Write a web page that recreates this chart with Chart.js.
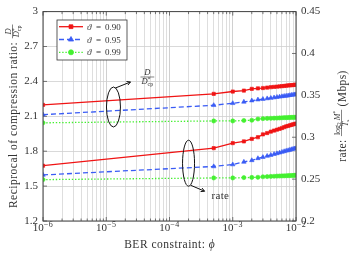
<!DOCTYPE html>
<html>
<head>
<meta charset="utf-8">
<script src="https://cdn.jsdelivr.net/npm/chart.js@4.4.0/dist/chart.umd.min.js"></script>
<style>
  html, body { margin: 0; padding: 0; background: #fff; }
  #wrap { width: 349px; height: 256px; }
</style>
</head>
<body>
<div id="wrap"><canvas id="chart" width="349" height="256"></canvas></div>
<script>
// BER constraint (x)
const berValues = [1e-6, 5e-4, 1e-3, 1.5e-3, 2e-3, 2.5e-3, 3e-3, 3.5e-3, 4e-3, 4.5e-3, 5e-3,
  5.5e-3, 6e-3, 6.5e-3, 7e-3, 7.5e-3, 8e-3, 8.5e-3, 9e-3, 9.5e-3, 1e-2];

// reciprocal of compression ratio D/D*cp (left axis)
const ratio090 = [2.198, 2.293, 2.313, 2.321, 2.336, 2.340, 2.343, 2.347, 2.350, 2.353, 2.355,
  2.357, 2.359, 2.361, 2.363, 2.365, 2.366, 2.368, 2.369, 2.371, 2.372];
const ratio095 = [2.114, 2.195, 2.212, 2.224, 2.235, 2.243, 2.248, 2.253, 2.257, 2.261, 2.265,
  2.268, 2.271, 2.274, 2.276, 2.278, 2.281, 2.283, 2.285, 2.287, 2.288];
const ratio099 = [2.044, 2.060, 2.060, 2.064, 2.066, 2.077, 2.080, 2.082, 2.083, 2.084, 2.085,
  2.086, 2.087, 2.088, 2.088, 2.089, 2.090, 2.090, 2.091, 2.091, 2.092];

// rate in Mbps (right axis)
const rate090 = [0.266, 0.287, 0.293, 0.295, 0.298, 0.300, 0.3034, 0.305, 0.3067, 0.308, 0.309,
  0.310, 0.311, 0.312, 0.313, 0.3135, 0.3142, 0.3148, 0.3154, 0.3158, 0.3163];
const rate095 = [0.255, 0.2651, 0.2674, 0.2705, 0.2724, 0.2748, 0.2762, 0.2776, 0.2787, 0.2798, 0.2807,
  0.2815, 0.2824, 0.2831, 0.2838, 0.2843, 0.2849, 0.2855, 0.2860, 0.2864, 0.2868];
const rate099 = [0.2494, 0.2514, 0.2514, 0.2518, 0.2520, 0.2522, 0.2528, 0.2530, 0.2532, 0.2534, 0.2536,
  0.2537, 0.2538, 0.2539, 0.2540, 0.2541, 0.2542, 0.2543, 0.2544, 0.2545, 0.2546];

const thetaLabels = ['0.90', '0.95', '0.99'];
const leftTicks = [1.2, 1.5, 1.8, 2.1, 2.4, 2.7, 3];
const rightTicks = [0.2, 0.25, 0.3, 0.35, 0.4, 0.45];
const xDecades = [-6, -5, -4, -3, -2];

const RED = '#f01414', BLUE = '#3a5cf5', GREEN = '#44f030';
const SERIF = '"Liberation Serif", "DejaVu Serif", serif';
const INK = '#333';

function pts(ys) {
  return berValues.map((x, i) => ({ x: x, y: ys[i] }));
}

// minor + major positions for the log axis grid
const xGridVals = [];
xDecades.forEach(e => {
  for (let k = 1; k <= 9; k++) {
    if (e === -2 && k > 1) break;
    xGridVals.push(+(k * Math.pow(10, e)).toPrecision(3));
  }
});
function isDecade(v) {
  const l = Math.log10(v);
  return Math.abs(l - Math.round(l)) < 1e-6;
}

const styles = [
  { color: RED, pointStyle: 'rect', radius: 2.3, dash: [] },
  { color: BLUE, pointStyle: 'triangle', radius: 2.6, dash: [5, 3] },
  { color: GREEN, pointStyle: 'circle', radius: 2.1, dash: [1.4, 1.8] }
];

function ds(ys, s, axis) {
  return {
    data: pts(ys),
    yAxisID: axis,
    borderColor: s.color,
    backgroundColor: s.color,
    borderWidth: 1.3,
    borderDash: s.dash,
    pointStyle: s.pointStyle,
    pointRadius: s.radius,
    pointBorderWidth: 0.6,
    tension: 0
  };
}

// text runs: {t, size, it, dy, stack, ls}
function setFont(ctx, s) {
  ctx.font = (s.it ? 'italic ' : '') + s.size + 'px ' + SERIF;
  ctx.letterSpacing = s.ls || '0px';
}
function runWidth(ctx, segs) {
  let w = 0, last = 0;
  segs.forEach(s => {
    setFont(ctx, s);
    const sw = ctx.measureText(s.t).width;
    if (s.stack) { w = w - last + Math.max(last, sw); last = Math.max(last, sw); }
    else { w += sw; last = sw; }
  });
  ctx.letterSpacing = '0px';
  return w;
}
function drawRun(ctx, segs, x, y) {
  let cx = x, prevX = x, last = 0;
  segs.forEach(s => {
    setFont(ctx, s);
    const sw = ctx.measureText(s.t).width;
    if (s.stack) {
      ctx.fillText(s.t, prevX, y + (s.dy || 0));
      cx = prevX + Math.max(last, sw);
      last = Math.max(last, sw);
    } else {
      ctx.fillText(s.t, cx, y + (s.dy || 0));
      prevX = cx; last = sw; cx += sw;
    }
  });
  ctx.letterSpacing = '0px';
  return cx;
}
function fracWidth(ctx, num, den) {
  return Math.max(runWidth(ctx, num), runWidth(ctx, den)) + 2;
}
// fraction with its left edge at x, bar at yBar
function drawFrac(ctx, num, den, x, yBar) {
  const nw = runWidth(ctx, num), dw = runWidth(ctx, den);
  const w = Math.max(nw, dw) + 2;
  drawRun(ctx, num, x + (w - nw) / 2, yBar - 1.8);
  drawRun(ctx, den, x + (w - dw) / 2, yBar + 6.8);
  ctx.save();
  ctx.strokeStyle = INK; ctx.lineWidth = 0.6;
  ctx.beginPath(); ctx.moveTo(x, yBar); ctx.lineTo(x + w, yBar); ctx.stroke();
  ctx.restore();
  return x + w;
}

const numD = [{ t: 'D', size: 8.5, it: true }];
const denD = [{ t: 'D', size: 8.5, it: true }, { t: '*', size: 6, dy: -3 }, { t: 'cp', size: 6, dy: 2, stack: true }];
const numRate = [{ t: 'log', size: 8 }, { t: '2', size: 5.5, dy: 1.5 }, { t: ' M', size: 8, it: true }, { t: '*', size: 5.5, dy: -3 }];
const denRate = [{ t: 'T', size: 8, it: true }, { t: 's', size: 5.5, dy: 1.5 }];

const decorPlugin = {
  id: 'decor',
  beforeDatasetsDraw(chart) {
    const { ctx, chartArea: a, scales } = chart;
    // inward tick marks
    ctx.save();
    ctx.strokeStyle = '#555'; ctx.lineWidth = 0.8;
    ctx.beginPath();
    xGridVals.forEach(v => {
      const px = scales.x.getPixelForValue(v);
      const len = isDecade(v) ? 4 : 2.5;
      ctx.moveTo(px, a.bottom); ctx.lineTo(px, a.bottom - len);
      ctx.moveTo(px, a.top); ctx.lineTo(px, a.top + len);
    });
    leftTicks.forEach(v => {
      const py = scales.yL.getPixelForValue(v);
      ctx.moveTo(a.left, py); ctx.lineTo(a.left + 4, py);
    });
    rightTicks.forEach(v => {
      const py = scales.yR.getPixelForValue(v);
      ctx.moveTo(a.right, py); ctx.lineTo(a.right - 4, py);
    });
    ctx.stroke();
    ctx.restore();
  },
  afterDraw(chart) {
    const { ctx, chartArea: a, scales } = chart;
    ctx.save();
    // frame
    ctx.strokeStyle = '#444'; ctx.lineWidth = 1;
    ctx.strokeRect(a.left, a.top, a.right - a.left, a.bottom - a.top);

    ctx.fillStyle = INK;
    ctx.textBaseline = 'alphabetic';
    ctx.textAlign = 'left';

    // x tick labels 10^e
    xDecades.forEach(e => {
      const px = scales.x.getPixelForValue(Math.pow(10, e));
      const segs = [{ t: '10', size: 11 }, { t: '\u2212' + Math.abs(e), size: 8, dy: -4.5, ls: '0.6px' }];
      const w = runWidth(ctx, segs);
      drawRun(ctx, segs, px - w / 2, 231);
    });

    // x title
    const xt = [{ t: 'BER constraint: ', size: 11.5, ls: '0.5px' }, { t: '\u03d5', size: 11.5, it: true }];
    const xw = runWidth(ctx, xt);
    drawRun(ctx, xt, (a.left + a.right) / 2 - xw / 2, 248);

    // left title
    ctx.save();
    ctx.translate(17, (a.top + a.bottom) / 2);
    ctx.rotate(-Math.PI / 2);
    const lt = [{ t: 'Reciprocal of compression ratio: ', size: 11.5, ls: '0.5px' }];
    const lw = runWidth(ctx, lt) + fracWidth(ctx, numD, denD);
    let lx = drawRun(ctx, lt, -lw / 2, 0);
    drawFrac(ctx, numD, denD, lx, -4.5);
    ctx.restore();

    // right title
    ctx.save();
    ctx.translate(346, 116);
    ctx.rotate(-Math.PI / 2);
    const r1 = [{ t: 'rate: ', size: 11.5, ls: '0.4px' }];
    const r2 = [{ t: ' (Mbps)', size: 11.5, ls: '0.4px' }];
    const rw = runWidth(ctx, r1) + fracWidth(ctx, numRate, denRate) + runWidth(ctx, r2);
    let rx = drawRun(ctx, r1, -rw / 2, 0);
    rx = drawFrac(ctx, numRate, denRate, rx, -4.5);
    drawRun(ctx, r2, rx, 0);
    ctx.restore();

    // legend
    const lgX = 57, lgY = 20, lgW = 70, lgH = 40;
    ctx.fillStyle = '#fff';
    ctx.fillRect(lgX, lgY, lgW, lgH);
    ctx.strokeStyle = '#333'; ctx.lineWidth = 0.8;
    ctx.strokeRect(lgX, lgY, lgW, lgH);
    chart.data.datasets.slice(0, 3).forEach((d, i) => {
      const ry = lgY + 6.7 + i * 12.8;
      ctx.save();
      ctx.strokeStyle = d.borderColor; ctx.lineWidth = 1.3;
      ctx.setLineDash(d.borderDash);
      ctx.beginPath(); ctx.moveTo(lgX + 2, ry); ctx.lineTo(lgX + 26, ry); ctx.stroke();
      ctx.restore();
      ctx.fillStyle = d.borderColor;
      ctx.strokeStyle = d.borderColor;
      Chart.helpers.drawPoint(ctx, {
        pointStyle: d.pointStyle, radius: d.pointRadius + 0.4, rotation: 0, borderWidth: 0.6
      }, lgX + 14, ry);
      ctx.fillStyle = INK;
      const tx = lgX + 30, ty = ry + 3;
      drawRun(ctx, [{ t: '\u03d1', size: 9, it: true }], tx, ty);
      drawRun(ctx, [{ t: '=', size: 9 }], tx + 9, ty);
      drawRun(ctx, [{ t: thetaLabels[i], size: 9 }], tx + 18, ty);
    });

    // ellipses and arrows
    ctx.strokeStyle = '#111'; ctx.lineWidth = 1;
    const e1x = scales.x.getPixelForValue(1.3e-5), e1y = scales.yL.getPixelForValue(2.18);
    const e2x = scales.x.getPixelForValue(2.0e-4), e2y = scales.yR.getPixelForValue(0.269);
    ctx.beginPath(); ctx.ellipse(e1x, e1y, 7, 20, 0, 0, Math.PI * 2); ctx.stroke();
    ctx.beginPath(); ctx.ellipse(e2x, e2y, 6, 23, 0, 0, Math.PI * 2); ctx.stroke();
    function arrow(x0, y0, x1, y1) {
      ctx.beginPath(); ctx.moveTo(x0, y0); ctx.lineTo(x1, y1); ctx.stroke();
      const ang = Math.atan2(y1 - y0, x1 - x0), h = 4;
      ctx.beginPath();
      ctx.moveTo(x1 - h * Math.cos(ang - 0.5), y1 - h * Math.sin(ang - 0.5));
      ctx.lineTo(x1, y1);
      ctx.lineTo(x1 - h * Math.cos(ang + 0.5), y1 - h * Math.sin(ang + 0.5));
      ctx.stroke();
    }
    arrow(e1x + 2, e1y - 19, e1x + 17, e1y - 25);
    arrow(e2x + 2, e2y + 22, e2x + 16, e2y + 28);
    ctx.fillStyle = INK;
    drawFrac(ctx, numD, denD, e1x + 27, e1y - 30);
    drawRun(ctx, [{ t: 'rate', size: 11, ls: '0.3px' }], e2x + 23, e2y + 36);
    ctx.restore();
  }
};

new Chart(document.getElementById('chart'), {
  type: 'line',
  data: {
    datasets: [
      ds(ratio090, styles[0], 'yL'),
      ds(ratio095, styles[1], 'yL'),
      ds(ratio099, styles[2], 'yL'),
      ds(rate090, styles[0], 'yR'),
      ds(rate095, styles[1], 'yR'),
      ds(rate099, styles[2], 'yR')
    ]
  },
  options: {
    responsive: false,
    animation: false,
    devicePixelRatio: 1,
    layout: { padding: { top: 7, left: 0, right: 0, bottom: 0 } },
    plugins: { legend: { display: false }, tooltip: { enabled: false } },
    scales: {
      x: {
        type: 'logarithmic',
        min: 1e-6,
        max: 1e-2,
        afterBuildTicks: s => { s.ticks = xGridVals.map(v => ({ value: v })); },
        afterFit: s => { s.height = 35; },
        ticks: { display: false, autoSkip: false },
        grid: {
          drawTicks: false,
          color: c => isDecade(c.tick.value) ? '#c4c4c4' : '#d6d6d6',
          lineWidth: 0.8
        },
        border: { display: false }
      },
      yL: {
        position: 'left',
        min: 1.2,
        max: 3,
        afterBuildTicks: s => { s.ticks = leftTicks.map(v => ({ value: v })); },
        afterFit: s => { s.width = 43; },
        ticks: {
          padding: 5,
          color: INK,
          font: { family: SERIF, size: 11 },
          callback: v => String(+(+v).toFixed(2))
        },
        grid: { drawTicks: false, color: '#cfcfcf', lineWidth: 0.8 },
        border: { display: false }
      },
      yR: {
        position: 'right',
        min: 0.2,
        max: 0.45,
        afterBuildTicks: s => { s.ticks = rightTicks.map(v => ({ value: v })); },
        afterFit: s => { s.width = 53; },
        ticks: {
          padding: 5,
          color: INK,
          font: { family: SERIF, size: 11 },
          callback: v => String(+(+v).toFixed(2))
        },
        grid: { drawOnChartArea: false, drawTicks: false },
        border: { display: false }
      }
    }
  },
  plugins: [decorPlugin]
});
</script>
</body>
</html>
